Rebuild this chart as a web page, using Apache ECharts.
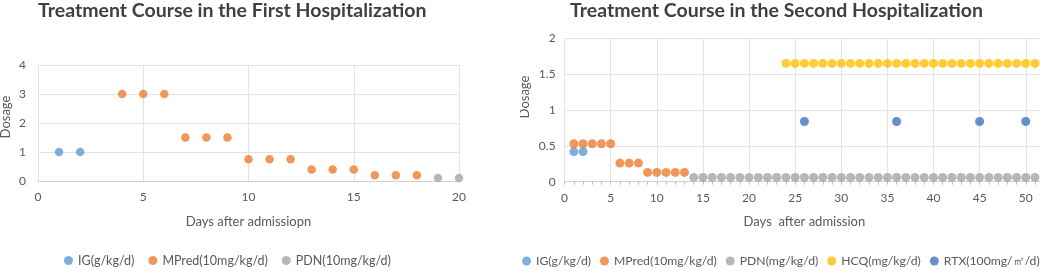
<!DOCTYPE html>
<html>
<head>
<meta charset="utf-8">
<script src="https://cdn.jsdelivr.net/npm/echarts@6/dist/echarts.min.js"></script>
<style>
  html, body { margin: 0; padding: 0; background: #fff; }
  #first { position: absolute; left: 0; top: 0; width: 520px; height: 271px; }
  #second { position: absolute; left: 520px; top: 0; width: 520px; height: 271px; }
</style>
</head>
<body>
<div id="first"></div>
<div id="second"></div>
<script>
// first hospitalization
const firstIGDays = [1, 2]
const firstIG = [1, 1]
const firstMPredDays = [4, 5, 6, 7, 8, 9, 10, 11, 12, 13, 14, 15, 16, 17, 18]
const firstMPred = [3, 3, 3, 1.5, 1.5, 1.5, 0.75, 0.75, 0.75, 0.4, 0.4, 0.4, 0.2, 0.2, 0.2]
const firstPDNDays = [19, 20]
const firstPDN = [0.1, 0.1]
const firstNames = ['IG(g/kg/d)', 'MPred(10mg/kg/d)', 'PDN(10mg/kg/d)']

// second hospitalization
const secondIGDays = [1, 2]
const secondIG = [0.42, 0.42]
const secondMPredDays = [1, 2, 3, 4, 5, 6, 7, 8, 9, 10, 11, 12, 13]
const secondMPred = [0.53, 0.53, 0.53, 0.53, 0.53, 0.26, 0.26, 0.26, 0.13, 0.13, 0.13, 0.13, 0.13]
const secondPDNDays = [14, 15, 16, 17, 18, 19, 20, 21, 22, 23, 24, 25, 26, 27, 28, 29, 30, 31, 32,
  33, 34, 35, 36, 37, 38, 39, 40, 41, 42, 43, 44, 45, 46, 47, 48, 49, 50, 51]
const secondPDN = [0.06, 0.06, 0.06, 0.06, 0.06, 0.06, 0.06, 0.06, 0.06, 0.06, 0.06, 0.06, 0.06,
  0.06, 0.06, 0.06, 0.06, 0.06, 0.06, 0.06, 0.06, 0.06, 0.06, 0.06, 0.06, 0.06, 0.06, 0.06, 0.06,
  0.06, 0.06, 0.06, 0.06, 0.06, 0.06, 0.06, 0.06, 0.06]
const secondHCQDays = [24, 25, 26, 27, 28, 29, 30, 31, 32, 33, 34, 35, 36, 37, 38, 39, 40, 41, 42,
  43, 44, 45, 46, 47, 48, 49, 50, 51]
const secondHCQ = [1.65, 1.65, 1.65, 1.65, 1.65, 1.65, 1.65, 1.65, 1.65, 1.65, 1.65, 1.65, 1.65,
  1.65, 1.65, 1.65, 1.65, 1.65, 1.65, 1.65, 1.65, 1.65, 1.65, 1.65, 1.65, 1.65, 1.65, 1.65]
const secondRTXDays = [26, 36, 45, 50]
const secondRTX = [0.84, 0.84, 0.84, 0.84]
const secondNames = ['IG(g/kg/d)', 'MPred(10mg/kg/d)', 'PDN(mg/kg/d)', 'HCQ(mg/kg/d)', 'RTX(100mg/㎡/d)']

const colors = ['#5b9bd5', '#ed7d31', '#a5a5a5', '#ffc000', '#4472c4']
const font = 'Lato, "Open Sans", sans-serif'
const gridColor = '#e3e3e3'
const labelColor = '#595959'

function pairs(xs, ys) {
  return xs.map((x, i) => [x, ys[i]])
}

function dots(name, xs, ys, color, size) {
  return {
    name: name,
    type: 'scatter',
    data: pairs(xs, ys),
    symbol: 'circle',
    symbolSize: size,
    itemStyle: { color: color },
    emphasis: { disabled: true }
  }
}

function baseOption(title, titleLeft, xName) {
  return {
    animation: false,
    textStyle: { fontFamily: font },
    title: {
      text: title,
      left: titleLeft,
      top: 1,
      padding: 0,
      textStyle: { fontFamily: font, fontSize: 19.5, fontWeight: 'bold', color: '#404040' }
    },
    legend: {
      bottom: 4,
      padding: 0,
      itemWidth: 9,
      itemHeight: 9,
      itemGap: 14,
      icon: 'circle',
      textStyle: { fontFamily: font, fontSize: 12.5, color: labelColor }
    },
    yAxis: {
      type: 'value',
      name: 'Dosage',
      nameLocation: 'middle',
      nameMoveOverlap: false,
      nameTextStyle: { fontSize: 13, color: labelColor },
      axisLine: { show: false },
      axisTick: { show: false },
      axisLabel: { color: labelColor, fontSize: 12, margin: 12 },
      splitLine: { lineStyle: { color: gridColor } }
    },
    xAxis: {
      type: 'value',
      name: xName,
      nameLocation: 'middle',
      nameMoveOverlap: false,
      nameGap: 34,
      nameTextStyle: { fontSize: 13, color: labelColor },
      axisLine: { lineStyle: { color: '#d0d0d0' } },
      axisLabel: { color: labelColor, fontSize: 12, margin: 10 },
      splitLine: { show: true, lineStyle: { color: gridColor } }
    }
  }
}

// left chart
const chart1 = echarts.init(document.getElementById('first'))
const opt1 = baseOption('Treatment Course in the First Hospitalization', 38, 'Days after admissiopn')
opt1.grid = { left: 38, top: 65, width: 421, height: 116, outerBoundsMode: 'none', containLabel: false }
opt1.legend.left = 64
opt1.legend.data = firstNames
opt1.xAxis.min = 0
opt1.xAxis.max = 20
opt1.xAxis.interval = 5
opt1.xAxis.axisTick = { show: false }
opt1.yAxis.min = 0
opt1.yAxis.max = 4
opt1.yAxis.interval = 1
opt1.yAxis.nameGap = 26
opt1.yAxis.nameTextStyle.padding = [0, 0, 0, 12]
opt1.series = [
  dots(firstNames[0], firstIGDays, firstIG, colors[0], 8.5),
  dots(firstNames[1], firstMPredDays, firstMPred, colors[1], 8.5),
  dots(firstNames[2], firstPDNDays, firstPDN, colors[2], 8.5)
]
chart1.setOption(opt1)

// right chart
const chart2 = echarts.init(document.getElementById('second'))
const opt2 = baseOption('Treatment Course in the Second Hospitalization', 50, 'Days  after admission')
opt2.grid = { left: 44.6, top: 38.3, right: -4.2, height: 143.4, outerBoundsMode: 'none', containLabel: false }
opt2.legend.left = 2
opt2.legend.itemGap = 9
opt2.legend.textStyle.fontSize = 12.2
opt2.legend.data = secondNames
opt2.xAxis.min = 0
opt2.xAxis.max = 52
opt2.xAxis.interval = 5
opt2.xAxis.axisLabel.showMaxLabel = false
opt2.xAxis.axisTick = { show: true, length: 3, lineStyle: { color: '#bfbfbf' } }
opt2.xAxis.minorTick = { show: true, splitNumber: 5, length: 3, lineStyle: { color: '#bfbfbf' } }
opt2.yAxis.min = 0
opt2.yAxis.max = 2
opt2.yAxis.interval = 0.5
opt2.yAxis.nameGap = 33
opt2.yAxis.nameTextStyle.padding = [0, 0, 0, 26]
opt2.yAxis.axisLabel.margin = 9
opt2.series = [
  dots(secondNames[0], secondIGDays, secondIG, colors[0], 9),
  dots(secondNames[1], secondMPredDays, secondMPred, colors[1], 9),
  dots(secondNames[2], secondPDNDays, secondPDN, colors[2], 9),
  dots(secondNames[3], secondHCQDays, secondHCQ, colors[3], 9),
  dots(secondNames[4], secondRTXDays, secondRTX, colors[4], 9)
]
chart2.setOption(opt2)
</script>
</body>
</html>
